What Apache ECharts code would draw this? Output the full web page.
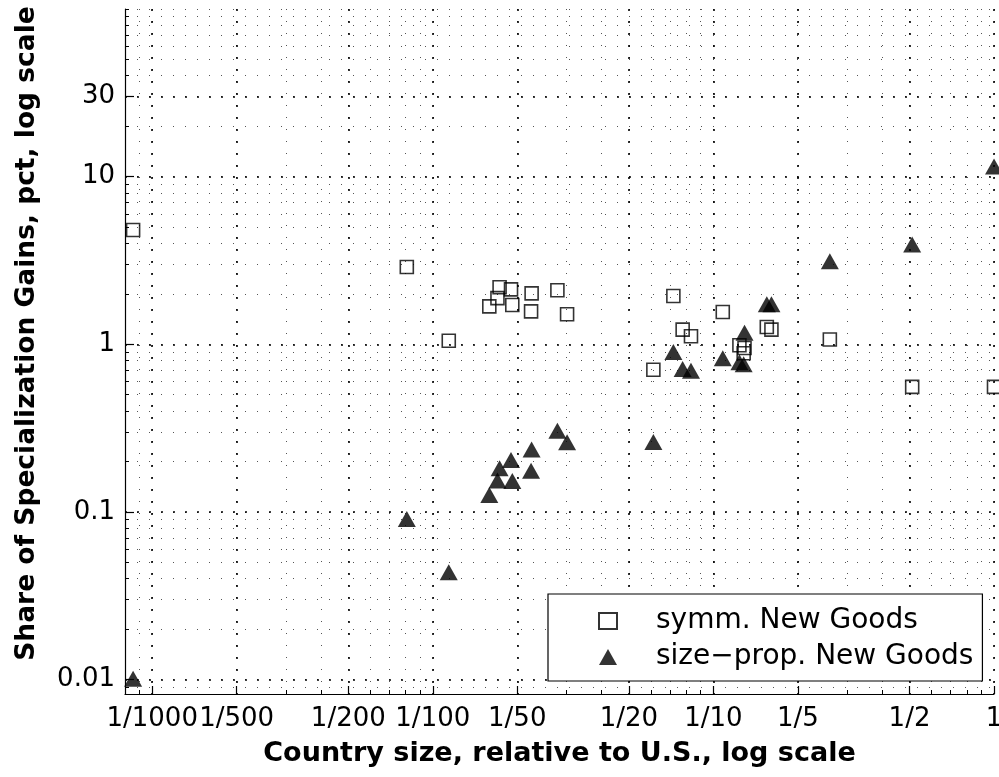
<!DOCTYPE html>
<html>
<head>
<meta charset="utf-8">
<script src="https://cdn.jsdelivr.net/npm/echarts@6/dist/echarts.min.js"></script>
<style>
  html, body { margin: 0; padding: 0; background: #fff; }
  #chart { width: 999px; height: 777px; }
</style>
</head>
<body>
<div id="chart"></div>
<script>
// Country size relative to the U.S. (one entry per country, shared by both series)
const countrySize = [0.000855, 0.00808, 0.0114, 0.0159, 0.0170, 0.0173, 0.0190, 0.0192, 0.0225, 0.0224,
                     0.0278, 0.0301, 0.0611, 0.0720, 0.0777, 0.0832, 0.108, 0.1238, 0.1291, 0.1282,
                     0.155, 0.161, 0.260, 0.511, 1.0];
// Share of specialization gains (pct), symmetric new goods
const symmShare = [4.80, 2.89, 1.049, 1.684, 1.886, 2.19, 2.125, 1.714, 2.012, 1.572,
                   2.10, 1.51, 0.705, 1.94, 1.223, 1.116, 1.557, 0.986, 0.95, 0.884,
                   1.268, 1.223, 1.067, 0.557, 0.557];
// Share of specialization gains (pct), size-proportional new goods
const sizePropShare = [0.0101, 0.0908, 0.0436, 0.126, 0.154, 0.182, 0.204, 0.153, 0.236, 0.176,
                       0.305, 0.26, 0.261, 0.90, 0.713, 0.694, 0.825, 0.781, 1.171, 0.760,
                       1.73, 1.73, 3.13, 3.94, 11.5];

const seriesNames = ['symm. New Goods', 'size\u2212prop. New Goods'];

const xTickValues = [0.001, 0.002, 0.005, 0.01, 0.02, 0.05, 0.1, 0.2, 0.5, 1];
const xTickLabels = ['1/1000', '1/500', '1/200', '1/100', '1/50', '1/20', '1/10', '1/5', '1/2', '1'];
const yTickValues = [0.01, 0.1, 1, 10, 30];
const yTickLabels = ['0.01', '0.1', '1', '10', '30'];

const X_MIN = 0.0008, X_MAX = 1;
const Y_MIN = 0.0082, Y_MAX = 100;

const FONT = 'DejaVu Sans';

// 1..9 x 10^n positions inside a range, for the minor grid of a log axis
function minorValues(lo, hi) {
  const out = [];
  for (let e = Math.floor(Math.log10(lo)); e <= Math.ceil(Math.log10(hi)); e++) {
    for (let k = 1; k <= 9; k++) {
      const v = +(k * Math.pow(10, e)).toPrecision(6);
      if (v >= lo * 0.9999 && v <= hi * 1.0001) out.push(v);
    }
  }
  return out;
}

function labelFor(values, labels) {
  return function (v) {
    for (let i = 0; i < values.length; i++) {
      if (Math.abs(Math.log10(v) - Math.log10(values[i])) < 1e-6) return labels[i];
    }
    return '';
  };
}

const majorGrid = { color: '#000', width: 1.6, type: [2, 10] };
const minorGrid = { color: '#555', width: 1, type: [1, 11] };

function mainAxis(dim, min, max, ticks, labels, tickLen, name, nameGap, nameStyle) {
  return {
    type: 'log', logBase: 10, min: min, max: max,
    position: dim === 'x' ? 'bottom' : 'left',
    z: 1,
    axisLine: { show: true, onZero: false, lineStyle: { color: '#000', width: 1.2 } },
    axisTick: { show: true, inside: true, length: tickLen, customValues: ticks,
                lineStyle: { color: '#000', width: 1.2 } },
    axisLabel: { show: true, customValues: ticks, formatter: labelFor(ticks, labels),
                 color: '#000', fontFamily: FONT, fontSize: 26,
                 margin: dim === 'x' ? 12 : 10, hideOverlap: false },
    splitLine: { show: true, lineStyle: majorGrid },
    name: name, nameLocation: 'middle', nameGap: nameGap, nameMoveOverlap: false,
    nameTextStyle: Object.assign({ color: '#000', fontFamily: FONT, fontWeight: 'bold' }, nameStyle)
  };
}

function minorAxis(dim, min, max) {
  return {
    type: 'log', logBase: 10, min: min, max: max,
    position: dim === 'x' ? 'bottom' : 'left',
    z: 0,
    axisLine: { show: false },
    axisTick: { show: true, inside: true, length: 4, customValues: minorValues(min, max),
                lineStyle: { color: '#000', width: 1 } },
    axisLabel: { show: false },
    splitLine: { show: true, lineStyle: minorGrid }
  };
}

const chart = echarts.init(document.getElementById('chart'), null, { renderer: 'canvas' });

chart.setOption({
  backgroundColor: '#fff',
  animation: false,
  grid: { left: 125, right: 5, top: 9, bottom: 83, containLabel: false, outerBoundsMode: 'none' },
  xAxis: [
    mainAxis('x', X_MIN, X_MAX, xTickValues, xTickLabels, 8,
             'Country size, relative to U.S., log scale', 46, { fontSize: 27 }),
    minorAxis('x', X_MIN, X_MAX)
  ],
  yAxis: [
    mainAxis('y', Y_MIN, Y_MAX, yTickValues, yTickLabels, 9,
             'Share of Specialization Gains, pct, log scale', 84,
             { fontSize: 26.5, padding: [0, 0, 0, 36] }),
    minorAxis('y', Y_MIN, Y_MAX)
  ],
  legend: {
    orient: 'vertical',
    left: 548, top: 594,
    padding: [12, 9, 9, 50],
    itemGap: 6,
    itemWidth: 18, itemHeight: 16,
    backgroundColor: '#fff',
    borderColor: '#000', borderWidth: 1.2,
    textStyle: { fontFamily: FONT, fontSize: 28, color: '#000', lineHeight: 30,
                 padding: [0, 0, 0, 34] },
    data: seriesNames
  },
  series: [
    {
      name: seriesNames[0],
      type: 'scatter',
      xAxisIndex: 0, yAxisIndex: 0,
      symbol: 'rect',
      symbolSize: 13,
      itemStyle: { color: 'rgba(255,255,255,0)', borderColor: '#000', borderWidth: 1.6 },
      data: countrySize.map((x, i) => [x, symmShare[i]]),
      z: 3
    },
    {
      name: seriesNames[1],
      type: 'scatter',
      xAxisIndex: 0, yAxisIndex: 0,
      symbol: 'triangle',
      symbolSize: [18, 16],
      itemStyle: { color: '#000' },
      data: countrySize.map((x, i) => [x, sizePropShare[i]]),
      z: 4
    }
  ]
});
</script>
</body>
</html>
